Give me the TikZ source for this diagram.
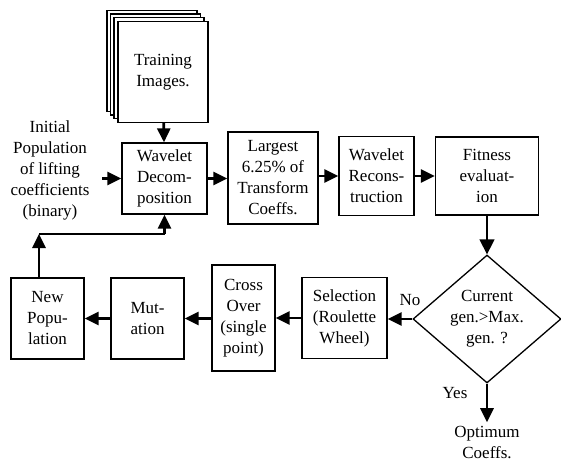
\documentclass[tikz,border=0pt]{standalone}
\usepackage{fontspec}
\setmainfont{Liberation Serif}
\usetikzlibrary{arrows.meta}
\usetikzlibrary{shapes.geometric}

\begin{document}
\begin{tikzpicture}[x=1pt,y=-1pt,
	every node/.style={font=\fontsize{17}{21}\selectfont, align=center},
	box/.style={draw, line width=1.3pt, inner sep=0pt, fill=white},
	arr/.style={line width=2.8pt, -{Triangle[length=14pt,width=13pt]}},
	thinarr/.style={line width=1.5pt, -{Triangle[length=15pt,width=15pt]}}]
	\useasboundingbox (0,0) rectangle (561,462);

	\foreach \o in {11,7.5,4}
		\node[box, minimum width=90pt, minimum height=101pt] at (163-\o,72-\o) {};
	\node[box, minimum width=90pt, minimum height=101pt] (ti) at (163,72) {Training\\Images.};

	\node (ip) at (50,170) {Initial\\Population\\of lifting\\coefficients\\(binary)};
	\coordinate (ipend) at (102,178.5);

	\node[box, minimum width=85pt, minimum height=71pt] (wd) at (164.5,178.5) {Wavelet\\Decom-\\position};
	\node[box, minimum width=90pt, minimum height=92pt] (lg) at (273,178) {Largest\\6.25\% of\\Transform\\Coeffs.};
	\node[box, minimum width=75pt, minimum height=79pt] (wr) at (376.5,176) {Wavelet\\Recons-\\truction};
	\node[box, minimum width=103pt, minimum height=78pt] (fe) at (487,176) {Fitness\\evaluat-\\ion};

	\node[draw, diamond, line width=1.3pt, inner sep=0pt, aspect=1.16, minimum width=148pt, minimum height=128pt] (dm) at (487,319) {Current\\gen.>Max.\\gen. ?};

	\node[box, minimum width=85pt, minimum height=81pt] (sel) at (344.5,318) {Selection\\(Roulette\\Wheel)};
	\node[box, minimum width=63pt, minimum height=106pt] (co) at (243.5,318) {Cross\\Over\\(single\\point)};
	\node[box, minimum width=73pt, minimum height=81pt] (mu) at (147.5,318.5) {Mut-\\ation};
	\node[box, minimum width=73pt, minimum height=81pt] (np) at (47.5,318.5) {New\\Popu-\\lation};

	\node (oc) at (487,442) {Optimum\\Coeffs.};
	\node (no) at (410,300) {No};
	\node (yes) at (455,393) {Yes};

	\coordinate (fb1) at (39,234);
	\coordinate (fb2) at (164.5,234);

	\draw[arr] (ti) -- (wd);
	\draw[arr] (ipend) -- (wd.west);
	\draw[arr] (wd.east) -- (wd.east -| lg.west);
	\draw[arr] (wr.west -| lg.east) -- (wr.west);
	\draw[arr] (wr.east) -- (wr.east -| fe.west);
	\draw[thinarr] (fe) -- (dm);
	\draw[arr] (dm.west) -- (dm.west -| sel.east);
	\draw[arr] (sel.west) -- (sel.west -| co.east);
	\draw[arr] (co.west |- mu.east) -- (mu.east);
	\draw[arr] (mu.west) -- (np.east);
	\draw[arr] (dm.south) -- (oc.north);
	\draw[arr] (np.north -| fb1) -- (fb1);
	\draw[line width=1.4pt] (fb1) -- (fb2);
	\draw[arr] (fb2) -- (wd.south);
\end{tikzpicture}
\end{document}
